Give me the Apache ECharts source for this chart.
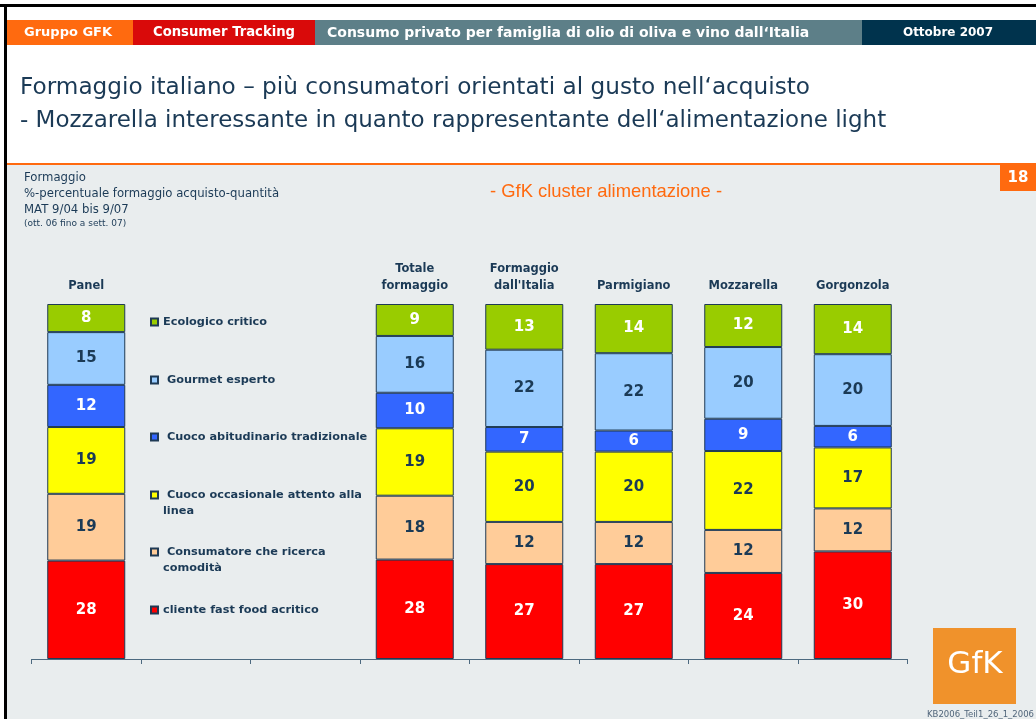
<!DOCTYPE html>
<html>
<head>
<meta charset="utf-8">
<script src="https://cdn.jsdelivr.net/npm/echarts@6/dist/echarts.min.js"></script>
<style>
  html, body { margin: 0; padding: 0; background: #fff; }
  #chart { width: 1036px; height: 719px; }
</style>
</head>
<body>
<div id="chart"></div>
<script>
// categories, empty slots leave room for the legend
const categories = ['Panel', '', '', 'Totale\nformaggio', "Formaggio\ndall'Italia", 'Parmigiano', 'Mozzarella', 'Gorgonzola']

// series from bottom to top of the stack
const seriesNames = [
  'cliente fast food acritico',
  'Consumatore che ricerca comodità',
  'Cuoco occasionale attento alla linea',
  'Cuoco abitudinario tradizionale',
  'Gourmet esperto',
  'Ecologico critico',
]
const fastFood = [28, null, null, 28, 27, 27, 24, 30]
const comodita = [19, null, null, 18, 12, 12, 12, 12]
const occasionale = [19, null, null, 19, 20, 20, 22, 17]
const abitudinario = [12, null, null, 10, 7, 6, 9, 6]
const gourmet = [15, null, null, 16, 22, 22, 20, 20]
const ecologico = [8, null, null, 9, 13, 14, 12, 14]
const values = [fastFood, comodita, occasionale, abitudinario, gourmet, ecologico]

const colors = ['#ff0000', '#ffcc99', '#ffff00', '#3366ff', '#99ccff', '#99cc00']
const labelColors = ['#ffffff', '#1b3a56', '#1b3a56', '#ffffff', '#1b3a56', '#ffffff']

// legend text as shown, blank first line keeps the marker on the first line
const legendText = {
  'Ecologico critico': 'Ecologico critico',
  'Gourmet esperto': ' Gourmet esperto',
  'Cuoco abitudinario tradizionale': ' Cuoco abitudinario tradizionale',
  'Cuoco occasionale attento alla linea': '\n Cuoco occasionale attento alla\nlinea',
  'Consumatore che ricerca comodità': '\n Consumatore che ricerca\ncomodità',
  'cliente fast food acritico': 'cliente fast food acritico',
}
const legendTops = {
  'Ecologico critico': 314,
  'Gourmet esperto': 372,
  'Cuoco abitudinario tradizionale': 429,
  'Cuoco occasionale attento alla linea': 471,
  'Consumatore che ricerca comodità': 528,
  'cliente fast food acritico': 602,
}

const ink = '#1b3a56'
const font = 'DejaVu Sans'

const totals = categories.map((_, i) => values.reduce((s, arr) => s + (arr[i] ?? 0), 0))

const chart = echarts.init(document.getElementById('chart'), null, { renderer: 'canvas' })

const series = seriesNames.map((name, k) => ({
  name,
  type: 'bar',
  stack: 'all',
  barWidth: 78,
  itemStyle: { color: colors[k], borderColor: '#1f3a55', borderWidth: 1 },
  label: {
    show: true,
    position: 'inside',
    color: labelColors[k],
    fontFamily: font,
    fontWeight: 'bold',
    fontSize: 15,
    formatter: (p) => String(values[k][p.dataIndex]),
  },
  emphasis: { disabled: true },
  data: values[k].map((v, i) => (v == null ? '-' : (v / totals[i]) * 100)),
}))

const legends = seriesNames.map((name) => ({
  show: true,
  data: [name],
  left: 150,
  top: legendTops[name],
  padding: 0,
  itemWidth: 7,
  itemHeight: 7,
  icon: 'rect',
  selectedMode: false,
  formatter: (n) => legendText[n],
  textStyle: { color: ink, fontFamily: font, fontWeight: 'bold', fontSize: 11.3, lineHeight: 16 },
}))

const option = {
  backgroundColor: '#ffffff',
  animation: false,
  legend: legends,
  grid: { left: 31.5, width: 876, top: 304, bottom: 60 },
  xAxis: [
    {
      type: 'category',
      data: categories,
      position: 'bottom',
      axisLine: { lineStyle: { color: '#4d6a80', width: 1 } },
      axisTick: { show: true, length: 5, lineStyle: { color: '#4d6a80' } },
      axisLabel: { show: false },
    },
    {
      type: 'category',
      data: categories,
      position: 'top',
      axisLine: { show: false },
      axisTick: { show: false },
      axisLabel: {
        margin: 9,
        color: ink,
        fontFamily: font,
        fontWeight: 'bold',
        fontSize: 11.5,
        lineHeight: 17,
        interval: 0,
      },
    },
  ],
  yAxis: { type: 'value', min: 0, max: 100, show: false },
  series,
  graphic: [
    // frame
    { type: 'rect', shape: { x: 0, y: 4, width: 1036, height: 3 }, style: { fill: '#000' } },
    { type: 'rect', shape: { x: 4, y: 4, width: 3, height: 715 }, style: { fill: '#000' } },
    // header bands
    { type: 'rect', shape: { x: 7, y: 20, width: 126, height: 25 }, style: { fill: '#ff6a0f' } },
    { type: 'rect', shape: { x: 133, y: 20, width: 182, height: 25 }, style: { fill: '#d90a0a' } },
    { type: 'rect', shape: { x: 315, y: 20, width: 547, height: 25 }, style: { fill: '#5d7f88' } },
    { type: 'rect', shape: { x: 862, y: 20, width: 174, height: 25 }, style: { fill: '#00334d' } },
    { type: 'text', x: 68, y: 33, style: { text: 'Gruppo GFK', fill: '#fff', font: `bold 13px "${font}"`, align: 'center', verticalAlign: 'middle' } },
    { type: 'text', x: 224, y: 33, style: { text: 'Consumer Tracking', fill: '#fff', font: `bold 13.2px "${font}"`, align: 'center', verticalAlign: 'middle' } },
    { type: 'text', x: 327, y: 33, style: { text: 'Consumo privato per famiglia di olio di oliva e vino dall\u2018Italia', fill: '#fff', font: `bold 14px "${font}"`, verticalAlign: 'middle' } },
    { type: 'text', x: 948, y: 33, style: { text: 'Ottobre 2007', fill: '#fff', font: `bold 12px "${font}"`, align: 'center', verticalAlign: 'middle' } },
    // title
    { type: 'text', x: 20, y: 88, style: { text: 'Formaggio italiano \u2013 più consumatori orientati al gusto nell\u2018acquisto', fill: ink, font: `23.2px "${font}"`, verticalAlign: 'middle' } },
    { type: 'text', x: 20, y: 121, style: { text: '- Mozzarella interessante in quanto rappresentante dell\u2018alimentazione light', fill: ink, font: `23px "${font}"`, verticalAlign: 'middle' } },
    // body background
    { type: 'rect', shape: { x: 7, y: 163, width: 1029, height: 2 }, style: { fill: '#ff6a0f' } },
    { type: 'rect', shape: { x: 7, y: 165, width: 1029, height: 554 }, style: { fill: '#e9edee' }, z: -10 },
    { type: 'rect', shape: { x: 1000, y: 165, width: 36, height: 26 }, style: { fill: '#ff6a0f' } },
    { type: 'text', x: 1018, y: 178, style: { text: '18', fill: '#fff', font: `bold 15px "${font}"`, align: 'center', verticalAlign: 'middle' } },
    // subtitle block
    { type: 'text', x: 24, y: 178, style: { text: 'Formaggio', fill: ink, font: `11.7px "${font}"`, verticalAlign: 'middle' } },
    { type: 'text', x: 24, y: 194, style: { text: '%-percentuale formaggio acquisto-quantità', fill: ink, font: `11.7px "${font}"`, verticalAlign: 'middle' } },
    { type: 'text', x: 24, y: 210, style: { text: 'MAT 9/04 bis 9/07', fill: ink, font: `11.7px "${font}"`, verticalAlign: 'middle' } },
    { type: 'text', x: 24, y: 224, style: { text: '(ott. 06 fino a sett. 07)', fill: ink, font: `9px "${font}"`, verticalAlign: 'middle' } },
    { type: 'text', x: 606, y: 192, style: { text: '- GfK cluster alimentazione -', fill: '#ff6a0f', font: `18.4px "Liberation Sans"`, align: 'center', verticalAlign: 'middle' } },
    // logo and footnote
    { type: 'rect', shape: { x: 933, y: 628, width: 83, height: 76 }, style: { fill: '#f0922b' } },
    { type: 'text', x: 975, y: 665, style: { text: 'GfK', fill: '#fff', font: `31px "${font}"`, align: 'center', verticalAlign: 'middle' } },
    { type: 'text', x: 1034, y: 715, style: { text: 'KB2006_Teil1_26_1_2006', fill: '#50657a', font: `8.5px "${font}"`, align: 'right', verticalAlign: 'middle' } },
  ],
}

chart.setOption(option)
</script>
</body>
</html>
